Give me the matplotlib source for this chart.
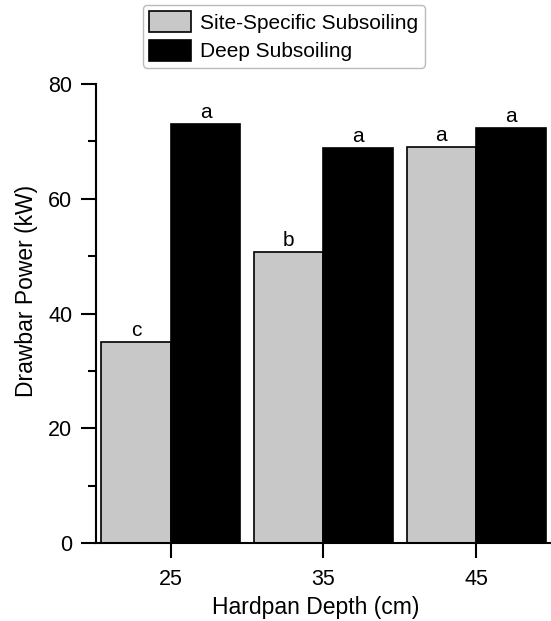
import matplotlib
matplotlib.use("Agg")
import matplotlib.pyplot as plt
from matplotlib.ticker import MultipleLocator
import numpy as np

plt.rcParams['font.family'] = ['Liberation Sans', 'DejaVu Sans']

categories = ["25", "35", "45"]
site_specific = [35.0, 50.7, 69.0]
deep = [73.0, 68.8, 72.3]
site_letters = ["c", "b", "a"]
deep_letters = ["a", "a", "a"]
series_names = ["Site-Specific Subsoiling", "Deep Subsoiling"]

fig = plt.figure(figsize=(5.51, 6.21), dpi=100)
ax = fig.add_axes([0.174, 0.1256, 0.826, 0.7391])

x = np.arange(len(categories))
w = 0.455
b1 = ax.bar(x - w / 2, site_specific, width=w, color="#c8c8c8", edgecolor="black", linewidth=1.2, label=series_names[0])
b2 = ax.bar(x + w / 2, deep, width=w, color="black", edgecolor="black", linewidth=1.2, label=series_names[1])

for rect, lab in zip(b1, site_letters):
    ax.text(rect.get_x() + rect.get_width() / 2, rect.get_height() + 0.4, lab,
            ha="center", va="bottom", fontsize=15)
for rect, lab in zip(b2, deep_letters):
    ax.text(rect.get_x() + rect.get_width() / 2, rect.get_height() + 0.4, lab,
            ha="center", va="bottom", fontsize=15)

ax.set_xlim(-0.49, 2.49)
ax.set_ylim(0, 80)
ax.set_xticks(x)
ax.set_xticklabels(categories)
ax.yaxis.set_major_locator(MultipleLocator(20))
ax.yaxis.set_minor_locator(MultipleLocator(10))
ax.tick_params(axis="both", which="major", direction="out", length=11, width=1.5, labelsize=15.5)
ax.tick_params(axis="x", which="major", pad=8)
ax.tick_params(axis="y", which="major", pad=6)
ax.tick_params(axis="y", which="minor", direction="out", length=6, width=1.5)
for s in ["top", "right"]:
    ax.spines[s].set_visible(False)
for s in ["left", "bottom"]:
    ax.spines[s].set_linewidth(1.5)

ax.set_xlabel("Hardpan Depth (cm)", fontsize=16.5)
ax.set_ylabel("Drawbar Power (kW)", fontsize=16.5)
ax.xaxis.set_label_coords(0.4835, -0.115)
ax.yaxis.set_label_coords(-0.127, 0.549)

leg = fig.legend(handles=[b1, b2], loc="upper left", bbox_to_anchor=(143 / 551, 1 - 5 / 621),
                 fontsize=15, frameon=True, fancybox=True, edgecolor="#aaaaaa",
                 handlelength=2.0, handleheight=1.15, labelspacing=0.35, borderpad=0.3,
                 handletextpad=0.45, borderaxespad=0)
leg.get_frame().set_linewidth(1.0)

fig.savefig("out.png", dpi=100)
